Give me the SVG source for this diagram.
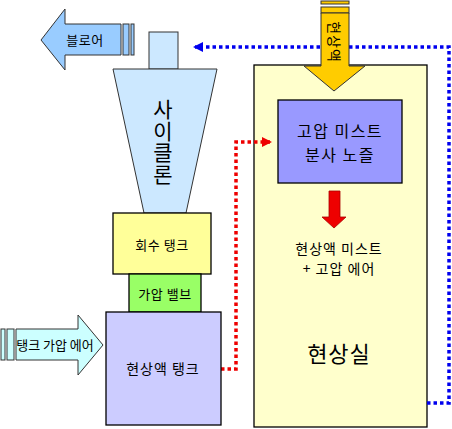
<svg xmlns="http://www.w3.org/2000/svg" width="452" height="429" viewBox="0 0 452 429">
<style>
text{font-family:"Noto Sans CJK KR","Liberation Sans",sans-serif;fill:#000;text-anchor:middle;dominant-baseline:central}
.s{stroke:#333;stroke-width:1}
.k{stroke:#000;stroke-width:1.3}
.t13{font-size:13px;letter-spacing:0.5px}
.cy{font-size:21px;writing-mode:vertical-rl;text-orientation:upright;letter-spacing:0.5px}
</style>
<defs>
<marker id="ab" markerWidth="10" markerHeight="10" refX="8" refY="5" orient="auto" markerUnits="userSpaceOnUse"><path d="M0,0 L10,5 L0,10 z" fill="#0000ee"/></marker>
<marker id="ar" markerWidth="10" markerHeight="10" refX="8" refY="5" orient="auto" markerUnits="userSpaceOnUse"><path d="M0,0 L10,5 L0,10 z" fill="#ee0000"/></marker>
</defs>
<rect width="452" height="429" fill="#fff"/>
<g id="room">
<rect x="254" y="65" width="173" height="362" fill="#ffffcc" class="k"/>
<text x="339" y="352" style="font-size:22px;letter-spacing:1px">현상실</text>
</g>
<g id="nozzle">
<rect x="278" y="100" width="124" height="83" fill="#9999ff" class="k"/>
<text style="font-size:16px;letter-spacing:1.5px"><tspan x="340" y="130">고압 미스트</tspan><tspan x="340" y="154">분사 노즐</tspan></text>
</g>
<g id="mist">
<path d="M329,191 H340 V217 H346 L334,228 L322,217 H329 Z" fill="#ee0000" stroke="#aa0000" stroke-width="0.8"/>
<text style="font-size:14px;letter-spacing:1px"><tspan x="339" y="248">현상액 미스트</tspan><tspan x="339" y="268">+ 고압 에어</tspan></text>
</g>
<g id="connectors" fill="none">
<path d="M427,403 H449 V47 H195" stroke="#0000ee" stroke-width="3.5" stroke-dasharray="3.5 3" marker-end="url(#ab)"/>
<path d="M221,369 H236 V142 H270" stroke="#ee0000" stroke-width="3.5" stroke-dasharray="3.5 3" marker-end="url(#ar)"/>
</g>
<g id="developer-arrow">
<rect x="321" y="1" width="28" height="3" fill="#ffcc00" class="s"/>
<rect x="321" y="7" width="28" height="6" fill="#ffcc00" class="s"/>
<path d="M321,13 H349 V66 H365 L334,91 L304,66 H321 Z" fill="#ffcc00" class="s"/>
<text transform="translate(335,42) rotate(90)" style="font-size:14px;letter-spacing:1px">현상액</text>
</g>
<g id="blower">
<path d="M41,40 L65,9 V24 H121 V55 H65 V70 Z" fill="#99ccff" class="s"/>
<rect x="123" y="24" width="6" height="31" fill="#99ccff" class="s"/>
<rect x="131" y="24" width="3" height="31" fill="#99ccff" class="s"/>
<text class="t13" x="85" y="39">블로어</text>
</g>
<g id="cyclone">
<rect x="149" y="32" width="29" height="37" fill="#cce8ff" class="s"/>
<path d="M113,69 H217 L186,213 H144 Z" fill="#cce8ff" class="s"/>
<text class="cy" x="163" y="142">사이클론</text>
</g>
<g id="recovery-tank">
<rect x="113" y="213" width="98" height="61" fill="#ffff99" class="k"/>
<text class="t13" x="162" y="244">회수 탱크</text>
</g>
<g id="valve">
<rect x="129" y="274" width="72" height="38" fill="#99ff66" class="k"/>
<text class="t13" x="165" y="293">가압 밸브</text>
</g>
<g id="developer-tank">
<rect x="106" y="312" width="115" height="113" fill="#ccccff" class="k"/>
<text x="163" y="368" style="font-size:14px;letter-spacing:1px">현상액 탱크</text>
</g>
<g id="tank-air">
<rect x="1" y="329" width="4" height="31" fill="#ccffff" class="s"/>
<rect x="7" y="329" width="7" height="31" fill="#ccffff" class="s"/>
<path d="M16,329 H78 V315 L103,345 L78,375 V360 H16 Z" fill="#ccffff" class="s"/>
<text x="55" y="344" style="font-size:13px">탱크 가압 에어</text>
</g>
</svg>
